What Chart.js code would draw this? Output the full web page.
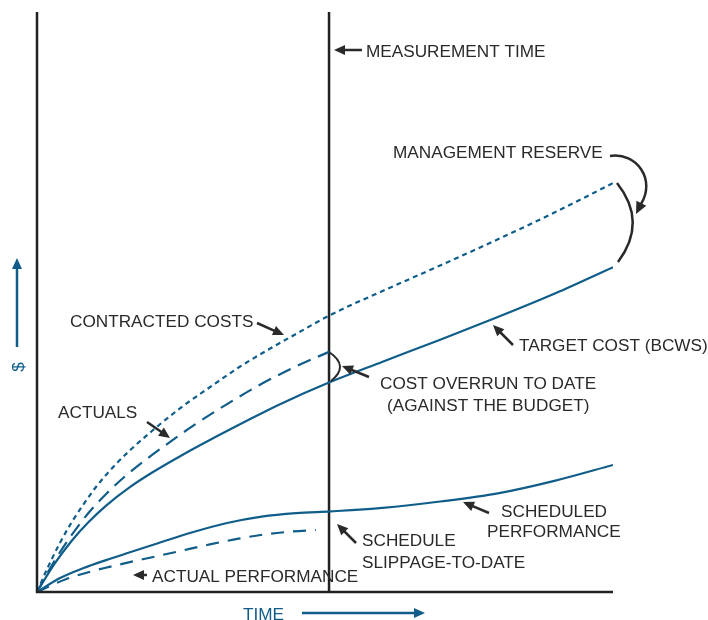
<!DOCTYPE html>
<html>
<head>
<meta charset="utf-8">
<title>Earned value</title>
<script src="https://cdn.jsdelivr.net/npm/chart.js@4.4.1/dist/chart.umd.min.js"></script>
<style>
  body { margin: 0; background: #fff; }
  #wrap { width: 708px; height: 620px; position: relative; }
</style>
</head>
<body>
<div id="wrap"><canvas id="chart"></canvas></div>
<script>
// time runs 0..100 across the axis, $ runs 0..100 up the axis
const measureTime = 50.7;

const contractedTime = [0, 2, 4, 6, 8, 10, 13, 16, 20, 25, 30, 35, 40, 45, 51, 60, 70, 80, 90, 100];
const contractedCost = [0, 4.5, 8.5, 12, 15, 17.8, 21.3, 24.3, 27.8, 31.8, 35.3, 38.7, 41.7, 44.5, 47.8, 51.9, 56.3, 60.8, 65.5, 70.5];

const actualsTime = [0, 3, 6, 9, 12, 15, 19, 23, 27, 33, 39, 45, 50.7];
const actualsCost = [0, 5.3, 9.8, 13.7, 16.9, 19.7, 22.9, 25.8, 28.6, 32.4, 35.9, 38.9, 41.4];

const targetTime = [0, 3, 6, 9, 12, 16, 20, 25, 30, 36, 42, 50.9, 60, 70, 80, 90, 100];
const targetCost = [0, 4.8, 8.8, 12.1, 14.9, 18, 20.6, 23.5, 26.2, 29.3, 32.3, 36.2, 39.7, 43.5, 47.4, 51.5, 56];

const schedTime = [0, 4, 8, 12, 16, 21, 27, 33, 39, 45, 51, 60, 70, 80, 90, 100];
const schedValue = [0, 2.4, 4.1, 5.5, 6.8, 8.4, 10.3, 11.9, 13, 13.6, 13.9, 14.5, 15.6, 17, 19.2, 21.9];

const actualPerfTime = [0, 5, 10, 15, 20, 25, 30, 35, 40, 44, 48.4];
const actualPerfValue = [0, 2.2, 3.7, 4.9, 6, 7.1, 8.2, 9.2, 10, 10.4, 10.7];

const BLUE = '#105d8a';
const INK = '#2a2a2a';
const FONT = '17.2px "Liberation Sans", Arial, sans-serif';

function pts(xs, ys) {
  return xs.map((x, i) => ({ x: x, y: ys[i] }));
}

function arrowHead(ctx, x1, y1, x2, y2, len, half) {
  const a = Math.atan2(y2 - y1, x2 - x1);
  ctx.beginPath();
  ctx.moveTo(x2, y2);
  ctx.lineTo(x2 - len * Math.cos(a) + half * Math.sin(a), y2 - len * Math.sin(a) - half * Math.cos(a));
  ctx.lineTo(x2 - len * Math.cos(a) - half * Math.sin(a), y2 - len * Math.sin(a) + half * Math.cos(a));
  ctx.closePath();
  ctx.fill();
}

function arrow(ctx, x1, y1, x2, y2) {
  const a = Math.atan2(y2 - y1, x2 - x1);
  ctx.beginPath();
  ctx.moveTo(x1, y1);
  ctx.lineTo(x2 - 6 * Math.cos(a), y2 - 6 * Math.sin(a));
  ctx.stroke();
  arrowHead(ctx, x1, y1, x2, y2, 11, 5);
}

const notes = {
  id: 'notes',
  afterDraw(chart) {
    const ctx = chart.ctx;
    const a = chart.chartArea;
    ctx.save();

    // axes
    ctx.strokeStyle = '#222';
    ctx.lineWidth = 2.5;
    ctx.beginPath();
    ctx.moveTo(a.left, a.top);
    ctx.lineTo(a.left, a.bottom);
    ctx.lineTo(a.right, a.bottom);
    ctx.stroke();

    // labels
    ctx.fillStyle = INK;
    ctx.font = FONT;
    ctx.textBaseline = 'alphabetic';
    ctx.textAlign = 'left';
    ctx.fillText('MEASUREMENT TIME', 366, 57);
    ctx.fillText('MANAGEMENT RESERVE', 393, 158);
    ctx.fillText('CONTRACTED COSTS', 70, 327);
    ctx.fillText('ACTUALS', 58, 418);
    ctx.fillText('TARGET COST (BCWS)', 519, 351);
    ctx.fillText('COST OVERRUN TO DATE', 380, 389);
    ctx.fillText('(AGAINST THE BUDGET)', 387, 411);
    ctx.fillText('SCHEDULED', 501, 517);
    ctx.fillText('PERFORMANCE', 487, 537);
    ctx.fillText('SCHEDULE', 362, 546);
    ctx.fillText('SLIPPAGE-TO-DATE', 362, 568);
    ctx.fillText('ACTUAL PERFORMANCE', 152, 582);

    // pointer arrows
    ctx.strokeStyle = INK;
    ctx.lineWidth = 2.5;
    arrow(ctx, 362, 50, 334, 50);
    arrow(ctx, 257, 323, 284, 335);
    arrow(ctx, 147, 422, 170, 438);
    arrow(ctx, 513, 345, 493, 325);
    arrow(ctx, 369, 377, 342, 366);
    arrow(ctx, 489, 513, 463, 502);
    arrow(ctx, 356, 543, 337, 524);
    arrow(ctx, 147, 575, 133, 575);

    // management reserve curved arrow and bracket
    ctx.beginPath();
    ctx.moveTo(610, 156);
    ctx.bezierCurveTo(637, 152, 656, 180, 641, 204);
    ctx.stroke();
    arrowHead(ctx, 647, 192, 636, 214, 12, 5.5);
    ctx.beginPath();
    ctx.moveTo(617, 183);
    ctx.quadraticCurveTo(648, 222, 618, 262);
    ctx.stroke();

    // cost overrun bracket
    ctx.lineWidth = 2;
    ctx.beginPath();
    ctx.moveTo(329, 352);
    ctx.quadraticCurveTo(350, 366, 331, 381);
    ctx.stroke();

    // axis titles
    ctx.fillStyle = BLUE;
    ctx.strokeStyle = BLUE;
    ctx.lineWidth = 2.5;
    ctx.fillText('TIME', 243, 620);
    arrow(ctx, 302, 613, 425, 613);
    arrow(ctx, 17, 347, 17, 258);
    ctx.save();
    ctx.translate(24, 367);
    ctx.rotate(-Math.PI / 2);
    ctx.textAlign = 'center';
    ctx.fillText('$', 0, 0);
    ctx.restore();

    ctx.restore();
  }
};

const line = (label, xs, ys, dash) => ({
  label: label,
  data: pts(xs, ys),
  borderColor: BLUE,
  borderWidth: 2.2,
  borderDash: dash,
  pointRadius: 0,
  cubicInterpolationMode: 'monotone',
  fill: false
});

new Chart(document.getElementById('chart'), {
  type: 'line',
  data: {
    datasets: [
      line('Contracted costs', contractedTime, contractedCost, [5, 4]),
      line('Actuals', actualsTime, actualsCost, [14, 8]),
      line('Target cost (BCWS)', targetTime, targetCost, []),
      line('Scheduled performance', schedTime, schedValue, []),
      line('Actual performance', actualPerfTime, actualPerfValue, [13, 9]),
      {
        label: 'Measurement time',
        data: [{ x: measureTime, y: 0 }, { x: measureTime, y: 100 }],
        borderColor: '#222',
        borderWidth: 2.5,
        pointRadius: 0
      }
    ]
  },
  options: {
    responsive: true,
    maintainAspectRatio: false,
    animation: false,
    layout: { padding: { left: 37, right: 95, top: 12, bottom: 28 } },
    scales: {
      x: { type: 'linear', min: 0, max: 100, display: false },
      y: { type: 'linear', min: 0, max: 100, display: false }
    },
    plugins: { legend: { display: false }, tooltip: { enabled: false } }
  },
  plugins: [notes]
});
</script>
</body>
</html>
